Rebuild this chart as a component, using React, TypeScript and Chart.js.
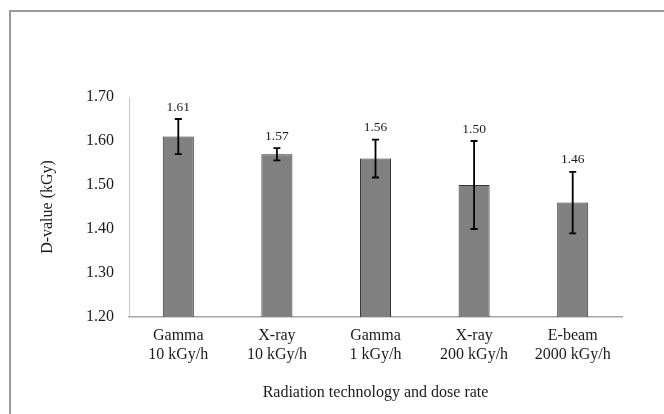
import React, { useEffect, useRef } from "react";
import { Chart, registerables } from "chart.js";

Chart.register(...registerables);

const categories: string[][] = [
  ["Gamma", "10 kGy/h"],
  ["X-ray", "10 kGy/h"],
  ["Gamma", "1 kGy/h"],
  ["X-ray", "200 kGy/h"],
  ["E-beam", "2000 kGy/h"],
];
const dValues: number[] = [1.61, 1.57, 1.56, 1.5, 1.46];
const dErrors: number[] = [0.04, 0.014, 0.043, 0.1, 0.07];
const valueLabels: string[] = ["1.61", "1.57", "1.56", "1.50", "1.46"];

const FONT = "'Liberation Serif', 'Times New Roman', serif";

const framePlugin = {
  id: "frame",
  beforeDraw(chart: any) {
    const ctx = chart.ctx;
    ctx.save();
    ctx.fillStyle = "#ffffff";
    ctx.fillRect(0, 0, chart.width, chart.height);
    ctx.strokeStyle = "#9a9a9a";
    ctx.lineWidth = 2;
    ctx.beginPath();
    ctx.moveTo(10, chart.height);
    ctx.lineTo(10, 11);
    ctx.lineTo(chart.width, 11);
    ctx.stroke();
    ctx.restore();
  },
};

const errorBarPlugin = {
  id: "errorBars",
  afterDatasetsDraw(chart: any) {
    const ctx = chart.ctx;
    const meta = chart.getDatasetMeta(0);
    const y = chart.scales.y;
    ctx.save();
    ctx.strokeStyle = "#000000";
    ctx.lineWidth = 1.8;
    meta.data.forEach((bar: any, i: number) => {
      const x = bar.x;
      const top = y.getPixelForValue(dValues[i] + dErrors[i]);
      const bot = y.getPixelForValue(dValues[i] - dErrors[i]);
      ctx.beginPath();
      ctx.moveTo(x, top);
      ctx.lineTo(x, bot);
      ctx.moveTo(x - 3.5, top);
      ctx.lineTo(x + 3.5, top);
      ctx.moveTo(x - 3.5, bot);
      ctx.lineTo(x + 3.5, bot);
      ctx.stroke();
      ctx.fillStyle = "#1a1a1a";
      ctx.font = `13.5px ${FONT}`;
      ctx.textAlign = "center";
      ctx.textBaseline = "middle";
      ctx.fillText(valueLabels[i], x, top - 12);
    });
    ctx.restore();
  },
};

export default function App() {
  const ref = useRef<HTMLCanvasElement | null>(null);
  useEffect(() => {
    if (!ref.current) return;
    const chart = new Chart(ref.current, {
      type: "bar",
      data: {
        labels: categories,
        datasets: [
          {
            data: dValues,
            backgroundColor: "#808080",
            borderColor: "#333333",
            borderWidth: 1,
            categoryPercentage: 0.63,
            barPercentage: 0.5,
          },
        ],
      },
      options: {
        animation: false,
        responsive: false,
        maintainAspectRatio: false,
        layout: { padding: { top: 97, right: 42, left: 0, bottom: 0 } },
        plugins: { legend: { display: false }, tooltip: { enabled: false } },
        scales: {
          x: {
            grid: { display: false, drawTicks: false },
            border: { display: true, color: "#a6a6a6", width: 1.5 },
            ticks: {
              color: "#1a1a1a",
              font: { family: FONT, size: 16, lineHeight: 1.15 },
              padding: 10,
              maxRotation: 0,
              autoSkip: false,
            },
            title: {
              display: true,
              text: "Radiation technology and dose rate",
              color: "#1a1a1a",
              font: { family: FONT, size: 16, lineHeight: 1.2 },
              padding: { top: 0, bottom: 12 },
            },
            afterFit: (s: any) => {
              s.height = 97;
            },
          },
          y: {
            min: 1.2,
            max: 1.7,
            grid: { display: false, drawTicks: false },
            border: { display: true, color: "#c8c8c8", width: 1 },
            ticks: {
              stepSize: 0.1,
              color: "#1a1a1a",
              font: { family: FONT, size: 16 },
              padding: 15,
              callback: (v: any) => Number(v).toFixed(2),
            },
            title: {
              display: true,
              text: "D-value (kGy)",
              color: "#1a1a1a",
              font: { family: FONT, size: 16, lineHeight: 1.2 },
              padding: { top: 38, bottom: 0 },
            },
            afterFit: (s: any) => {
              s.width = 129;
            },
          },
        },
      },
      plugins: [framePlugin, errorBarPlugin],
    });
    return () => chart.destroy();
  }, []);
  return (
    <canvas
      ref={ref}
      width={664}
      height={414}
      style={{ position: "fixed", left: 0, top: 0, width: 664, height: 414 }}
    />
  );
}
